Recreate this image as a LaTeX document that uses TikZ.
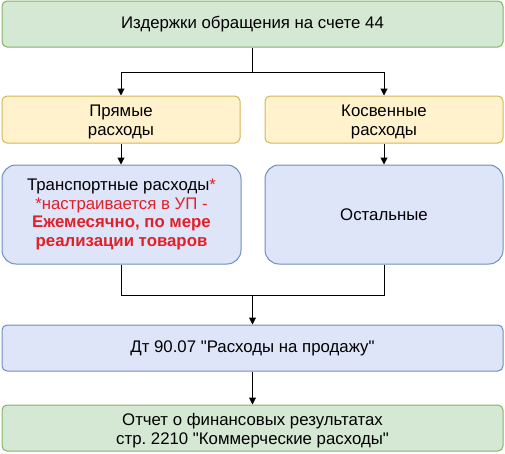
\documentclass[tikz,border=0pt]{standalone}
\usepackage{fontspec}
\setmainfont{Liberation Sans}
\frenchspacing
\usetikzlibrary{arrows.meta}
\definecolor{gfill}{HTML}{D5E8D4}
\definecolor{gline}{HTML}{82B366}
\definecolor{yfill}{HTML}{FFF2CC}
\definecolor{yline}{HTML}{D6B656}
\definecolor{bfill}{HTML}{DFE5F9}
\definecolor{bline}{HTML}{6C8EBF}
\definecolor{redtxt}{HTML}{E0202A}
\tikzset{
  txt/.style={align=center, font=\fontsize{16.8}{18.8}\selectfont, text=black, inner sep=0pt},
  box/.style={txt, draw, line width=1pt, rounded corners=5pt},
  greenbox/.style={box, fill=gfill, draw=gline},
  yellowbox/.style={box, fill=yfill, draw=yline},
  bluebox/.style={box, fill=bfill, draw=bline},
  conn/.style={line width=1pt, black},
  arr/.style={conn, -{Triangle[length=7pt,width=7pt]}},
}
\begin{document}
\begin{tikzpicture}[x=1pt,y=-1pt]
\useasboundingbox (0,0) rectangle (505,453);
\node[greenbox, minimum width=501pt, minimum height=46pt] (top) at (252.5,24) {Издержки обращения на счете 44};
\node[yellowbox, minimum width=238pt, minimum height=47pt] (direct) at (121,119.5) {};
\node[txt] (directtxt) at ([yshift=-2.5pt]direct.center) {Прямые\\расходы};
\node[yellowbox, minimum width=238pt, minimum height=47pt] (indirect) at (384,119.5) {};
\node[txt] (indirecttxt) at ([yshift=-2.5pt]indirect.center) {Косвенные\\расходы};
\node[bluebox, rounded corners=14pt, minimum width=239pt, minimum height=99pt] (transp) at (121.5,214.5) {Транспортные расходы\textcolor{redtxt}{*}\\\textcolor{redtxt}{*настраивается в УП -}\\\textcolor{redtxt}{\bfseries Ежемесячно, по мере}\\\textcolor{redtxt}{\bfseries реализации товаров}};
\node[bluebox, rounded corners=14pt, minimum width=238pt, minimum height=99pt] (other) at (384,214.5) {Остальные};
\node[bluebox, minimum width=501pt, minimum height=46pt] (dt) at (252.5,348) {Дт 90.07 \textquotedbl Расходы на продажу\textquotedbl};
\node[greenbox, minimum width=501pt, minimum height=46pt] (report) at (252.5,428) {};
\node[txt] (reporttxt) at ([yshift=-2.5pt]report.center) {Отчет о финансовых результатах\\стр. 2210 \textquotedbl Коммерческие расходы\textquotedbl};
\coordinate (split) at (252.5,72);
\coordinate (join) at (252.5,295);
\draw[conn] (top.south) -- (split);
\draw[arr] (split) -| (direct.north);
\draw[arr] (split) -| (indirect.north);
\draw[arr] (direct.south) -- (transp.north -| direct.south);
\draw[arr] (indirect.south) -- (other.north -| indirect.south);
\draw[conn] (transp.south) |- (join);
\draw[conn] (other.south) |- (join);
\draw[arr] (join) -- (dt.north);
\draw[arr] (dt.south) -- (report.north);
\end{tikzpicture}
\end{document}
